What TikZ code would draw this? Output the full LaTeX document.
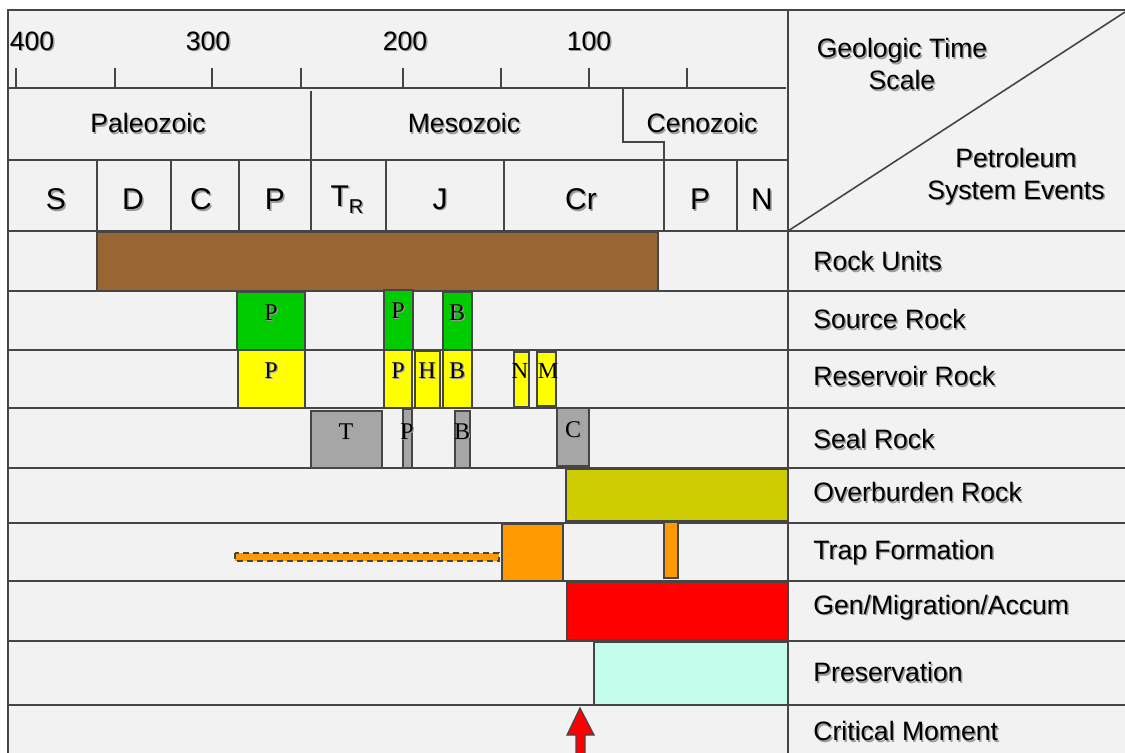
\documentclass[tikz,border=0pt]{standalone}
\usepackage{fontspec}
\setmainfont{Liberation Sans}
\newfontfamily\serifb{Liberation Serif}
\definecolor{bgc}{HTML}{F2F2F2}
\definecolor{brownc}{HTML}{996633}
\definecolor{greenc}{HTML}{00CC00}
\definecolor{yellowc}{HTML}{FFFF00}
\definecolor{sealc}{HTML}{A6A6A6}
\definecolor{olivec}{HTML}{CCCC00}
\definecolor{orangec}{HTML}{FF9900}
\definecolor{redc}{HTML}{FF0000}
\definecolor{presc}{HTML}{C4FCEE}
\definecolor{linec}{HTML}{454545}
\definecolor{shadc}{HTML}{9A9A9A}
\newcommand\shd[1]{\makebox[0pt][l]{\hspace{0.7pt}\raisebox{-0.7pt}{\textcolor{shadc}{#1}}}#1}
\begin{document}
\begin{tikzpicture}[x=0.5pt,y=-0.5pt,
  grid/.style={draw=linec,line width=0.8pt},
  lab/.style={font=\fontsize{13.3}{16}\selectfont,inner sep=0pt,text=black},
  per/.style={font=\fontsize{15}{17}\selectfont,inner sep=0pt},
  ev/.style={lab,anchor=west},
  bar/.style={draw=linec,line width=0.6pt},
  blab/.style={font=\serifb\fontsize{12}{14}\selectfont,inner sep=0pt}]
\useasboundingbox (0,0) rectangle (1125,753);
\fill[white] (0,0) rectangle (1125,753);
\fill[bgc] (8,10) rectangle (1125,753);
% frame and grid
\draw[grid] (8,753) -- (8,10) -- (1125,10);
\draw[grid] (8,88) -- (786,88);
\foreach \t in {16,115,212,301,403,501,589,687} \draw[grid] (\t,68) -- (\t,88);
\draw[grid] (8,160) -- (788,160);
\draw[grid] (311,91) -- (311,231);
\foreach \t in {97,171,239,386,504,737} \draw[grid] (\t,160) -- (\t,231);
\draw[grid] (623,88) -- (623,142) -- (664,142) -- (664,231);
\draw[grid] (788,10) -- (788,753);
\draw[grid] (788,231) -- (1125,12);
\foreach \r in {231,291,350,408,468,523,581,641,705} \draw[grid] (8,\r) -- (1125,\r);
% axis labels
\node[lab] (a400) at (32,42) {\shd{400}};
\node[lab] (a300) at (208,42) {\shd{300}};
\node[lab] (a200) at (405,42) {\shd{200}};
\node[lab] (a100) at (589,42) {\shd{100}};
% eras
\node[lab] (paleo) at (148,124) {\shd{Paleozoic}};
\node[lab] (meso) at (464,124) {\shd{Mesozoic}};
\node[lab] (ceno) at (702,124) {\shd{Cenozoic}};
% periods
\node[per] (pS) at (56,200) {\shd{S}};
\node[per] (pD) at (133,200) {\shd{D}};
\node[per] (pC) at (201,200) {\shd{C}};
\node[per] (pP) at (275,200) {\shd{P}};
\node[per] (pT) at (347,200) {\shd{T}\raisebox{-0.45ex}{\fontsize{10}{12}\selectfont\shd{R}}};
\node[per] (pJ) at (440,200) {\shd{J}};
\node[per] (pCr) at (581,200) {\shd{Cr}};
\node[per] (pP2) at (700,200) {\shd{P}};
\node[per] (pN) at (762,200) {\shd{N}};
% header right
\node[lab,align=center] (gts) at (902,65) {\shd{Geologic Time}\\\shd{Scale}};
\node[lab,align=center] (pse) at (1016,177) {\shd{Petroleum}\\\shd{System Events}};
% event labels
\node[ev] (e1) at (813,262) {\shd{Rock Units}};
\node[ev] (e2) at (813,320) {\shd{Source Rock}};
\node[ev] (e3) at (813,377) {\shd{Reservoir Rock}};
\node[ev] (e4) at (813,440) {\shd{Seal Rock}};
\node[ev] (e5) at (813,493) {\shd{Overburden Rock}};
\node[ev] (e6) at (813,553) {\shd{Trap Formation}};
\node[ev] (e7) at (813,608) {\shd{Gen/Migration/Accum}};
\node[ev] (e8) at (813,673) {\shd{Preservation}};
\node[ev] (e9) at (813,732) {\shd{Critical Moment}};
% rock units
\filldraw[bar,fill=brownc] (97,232) rectangle (658,291);
% source rock
\filldraw[bar,fill=greenc] (237,292) rectangle (305,350);
\filldraw[bar,fill=greenc] (384,290) rectangle (413,350);
\filldraw[bar,fill=greenc] (443,292) rectangle (472,350);
\node[blab] (s1) at (271,313) {\shd{P}};
\node[blab] (s2) at (398,311) {\shd{P}};
\node[blab] (s3) at (457,313) {\shd{B}};
% reservoir
\filldraw[bar,fill=yellowc] (238,350) rectangle (305,408);
\filldraw[bar,fill=yellowc] (384,350) rectangle (412,408);
\filldraw[bar,fill=yellowc] (415,351) rectangle (440,408);
\filldraw[bar,fill=yellowc] (443,350) rectangle (472,408);
\filldraw[bar,fill=yellowc] (514,352) rectangle (529,407);
\filldraw[bar,fill=yellowc] (537,352) rectangle (556,406);
\node[blab] (r1) at (271,371) {\shd{P}};
\node[blab] (r2) at (398,371) {\shd{P}};
\node[blab] (r3) at (427,371) {\shd{H}};
\node[blab] (r4) at (457,371) {\shd{B}};
\node[blab,font=\serifb\fontsize{11.5}{13}\selectfont] (r5) at (520,371) {N};
\node[blab,font=\serifb\fontsize{11.5}{13}\selectfont] (r6) at (548,371) {M};
% seal
\filldraw[bar,fill=sealc] (311,411) rectangle (382,468);
\filldraw[bar,fill=sealc] (403,409) rectangle (412,468);
\filldraw[bar,fill=sealc] (455,411) rectangle (470,468);
\filldraw[bar,fill=sealc] (557,408) rectangle (589,466);
\node[blab] (l1) at (346,432) {\shd{T}};
\node[blab] (l2) at (407,432) {\shd{P}};
\node[blab] (l3) at (462,432) {\shd{B}};
\node[blab] (l4) at (573,430) {\shd{C}};
% overburden
\filldraw[bar,fill=olivec] (566,469) rectangle (788,521);
% trap
\filldraw[bar,fill=orangec,dashed,dash pattern=on 3pt off 2pt] (235,553) rectangle (499,561);
\filldraw[bar,fill=orangec] (502,524) rectangle (563,581);
\filldraw[bar,fill=orangec] (664,522) rectangle (678,578);
% gen/migration
\filldraw[bar,fill=redc] (567,582) rectangle (788,640);
% preservation
\filldraw[bar,fill=presc] (594,642) rectangle (788,705);
% critical moment arrow
\filldraw[bar,fill=redc] (576,753) -- (576,735) -- (567,735) -- (580,708) -- (594,735) -- (585,735) -- (585,753);
\end{tikzpicture}
\end{document}
